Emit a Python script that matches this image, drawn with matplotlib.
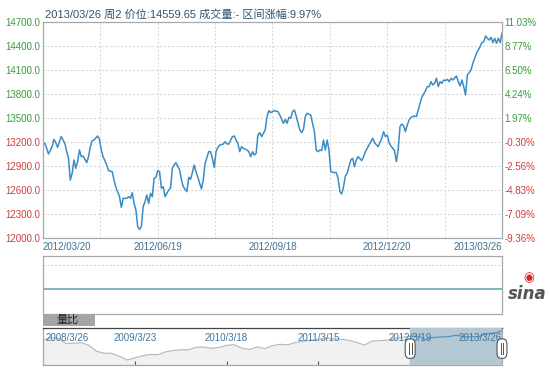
import matplotlib.pyplot as plt
from matplotlib.patches import Rectangle, FancyBboxPatch

# daily close, trading-day offset from 2012/03/20
days = [0, 1, 2, 3, 5, 6, 7, 8, 9, 10, 12, 13, 14, 15, 16, 17, 18, 19, 20, 21,
        22, 24, 25, 26, 27, 28, 30, 31, 32, 33, 35, 36, 38, 39, 40, 42, 43, 44, 46, 47,
        48, 49, 50, 51, 52, 53, 54, 55, 56, 57, 58, 59, 60,
        61, 62, 63, 64, 65, 66, 67, 69, 70, 71, 72, 73, 75, 76, 77, 79, 80, 81, 82, 83,
        84, 86, 87, 88, 89, 91, 92, 93, 94, 95, 96, 97, 99, 100, 101, 102, 104, 105, 106, 107,
        108, 109, 110, 112, 113, 114, 115, 116, 117, 118, 119,
        120, 122, 123, 124, 125, 127, 129, 130, 132, 133, 134, 135, 136, 137, 138, 139, 141, 142, 143, 144,
        145, 147, 148, 149, 150, 151, 152, 153, 154, 155, 156, 157, 158, 160, 161, 162, 163, 164, 165, 166,
        167, 169, 170, 171, 172, 173, 175, 176, 177, 179, 180, 181, 182, 184,
        186, 187, 188, 189, 190, 191, 192, 193, 194, 195, 196, 197, 198, 199, 200, 201, 202, 204, 205, 206,
        207, 208, 210, 211, 212, 213, 214, 215, 216, 217, 218, 219, 220, 221, 222, 223, 224, 225, 227, 228,
        229, 230, 231, 232, 233, 234, 235, 236, 237, 238, 239, 240, 241, 242, 243, 244, 245, 246, 247, 248,
        249, 250, 251, 252]
close = [13170, 13184, 13121, 13050, 13142, 13233, 13192, 13133, 13204, 13267, 13183, 13079, 12996, 12725, 12808, 12975, 12871, 12954, 13100, 13017,
         13025, 12942, 13017, 13142, 13217, 13225, 13275, 13233, 13100, 13017, 12912, 12842, 12829, 12725, 12633, 12517, 12383, 12496, 12496, 12517,
         12496, 12567, 12433, 12350, 12142, 12108, 12142, 12392, 12454, 12538, 12433, 12558, 12517,
         12746, 12758, 12842, 12829, 12621, 12642, 12517, 12600, 12621, 12871, 12912, 12942, 12850, 12725, 12642, 12579, 12758, 12733, 12817, 12912,
         12829, 12683, 12612, 12725, 12933, 13079, 13079, 12996, 12883, 13079, 13133, 13162, 13175, 13204, 13175, 13175, 13267, 13275, 13225, 13183,
         13079, 13142, 13121, 13100, 13079, 13017, 13079, 13037, 13058, 13287, 13317,
         13267, 13350, 13517, 13592, 13567, 13592, 13579, 13537, 13433, 13483, 13433, 13508, 13496, 13579, 13600, 13525, 13350, 13317, 13358, 13517,
         13558, 13537, 13433, 13329, 13100, 13079, 13100, 13092, 13225, 13100, 13225, 13100, 12829, 12817, 12817, 12746, 12579, 12550, 12642, 12775,
         12808, 12975, 12996, 12892, 12975, 13017, 12967, 13017, 13079, 13162, 13204, 13246, 13192, 13142,
         13246, 13329, 13267, 13287, 13192, 13150, 13121, 13092, 12954, 13100, 13392, 13425, 13400, 13329, 13412, 13475, 13508, 13525, 13517, 13600,
         13683, 13758, 13842, 13892, 13892, 13954, 13912, 13933, 13996, 13892, 13954, 13933, 13975, 13967, 13983, 13954, 13996, 13975, 14025, 13954,
         13900, 13975, 13892, 13787, 14037, 14067, 14100, 14183, 14246, 14308, 14350, 14392, 14442, 14454, 14525, 14496, 14475, 14508, 14442, 14496,
         14433, 14496, 14442, 14559.65]
base_close = 13239.13
date_ticks = [0, 63, 126, 189, 252]
date_labels = ['2012/03/20', '2012/06/19', '2012/09/18', '2012/12/20', '2013/03/26']
price_ticks = [12000, 12300, 12600, 12900, 13200, 13500, 13800, 14100, 14400, 14700]

# volume ratio panel (flat)
vol_days = [0, 252]
vol_ratio = [1.0, 1.0]

# navigator: monthly close 2008/03 .. 2013/03
nav_close = [12262, 12820, 12638, 11350, 11378, 11543, 10850, 9325, 8829, 8776,
             8000, 7063, 7609, 8168, 8500, 8447, 9172, 9496, 9712, 9713, 10345, 10428,
             10067, 10325, 10857, 11009, 10137, 9774, 10466, 10015, 10788, 11118, 11006, 11578,
             11892, 12226, 12320, 12811, 12570, 12414, 12143, 11614, 10913, 11955, 12046, 12218,
             12633, 12952, 13212, 13214, 12393, 12880, 13009, 13091, 13437, 13096, 13026, 13104,
             13861, 14054, 14559]
nav_ticks = [0, 12, 24, 36, 48, 60]
nav_labels = ['2008/3/26', '2009/3/23', '2010/3/18', '2011/3/15', '2012/3/19', '2013/3/26']
sel_start = 48

num_font = ['Liberation Sans', 'Noto Sans CJK SC']
green = '#3a9a3a'
red = '#d03c3c'
axis_blue = '#3f6f8f'

plt.rcParams['font.family'] = num_font
fig = plt.figure(figsize=(5.5, 3.79), dpi=100)

# main price panel
ax = fig.add_axes([0.0782, 0.372, 0.8345, 0.570])
ax.plot(days, close, color='#3c8cc4', lw=1.1)
ax.set_xlim(0, 252)
ax.set_ylim(12000, 14700)
ax.set_yticks(price_ticks)
ax.set_yticklabels(['%.1f' % v for v in price_ticks])
for lab, v in zip(ax.get_yticklabels(), price_ticks):
    lab.set_color(green if v > base_close else red)
ax.set_xticks(date_ticks)
ax.set_xticklabels(date_labels)
xl = ax.get_xticklabels()
xl[0].set_ha('left')
xl[-1].set_ha('right')
ax.set_xticks([31.5 * i for i in range(1, 8)], minor=True)
ax.tick_params(axis='both', which='both', length=0, labelsize=7, pad=2)
ax.tick_params(axis='x', colors=axis_blue, pad=3)
ax.grid(True, which='both', color='#d4d4d4', ls=(0, (2, 2)), lw=0.7)
for s in ax.spines.values():
    s.set_color('#a8a8a8')
    s.set_linewidth(0.9)

ax2 = ax.twinx()
ax2.set_ylim(12000, 14700)
ax2.set_yticks(price_ticks)
ax2.set_yticklabels(['%.2f%%' % ((v / base_close - 1) * 100) for v in price_ticks])
for lab, v in zip(ax2.get_yticklabels(), price_ticks):
    lab.set_color(green if v > base_close else red)
ax2.tick_params(length=0, labelsize=7, pad=2)
for s in ax2.spines.values():
    s.set_visible(False)

fig.text(0.082, 0.962, '2013/03/26 周2 价位:14559.65 成交量:- 区间涨幅:9.97%',
         fontsize=8, color='#2d5370', va='center', ha='left')

# volume ratio panel
axv = fig.add_axes([0.0782, 0.172, 0.8345, 0.1517])
axv.plot(vol_days, vol_ratio, color='#5aa0b4', lw=1.1)
axv.axhline(2, color='#c8c8c8', ls=(0, (2, 2)), lw=0.7)
axv.set_xlim(0, 252)
axv.set_ylim(0, 2.35)
axv.set_xticks([])
axv.set_yticks([])
for s in axv.spines.values():
    s.set_color('#a8a8a8')
    s.set_linewidth(0.9)

fig.patches.append(Rectangle((0.0782, 0.1398), 0.0945, 0.033, transform=fig.transFigure,
                             facecolor='#a4a4a4', edgecolor='none'))
fig.text(0.122, 0.156, '量比', fontsize=8, color='#222222', ha='center', va='center')

# sina logo
fig.text(0.958, 0.225, 'sina', fontsize=12, style='italic', fontweight='bold',
         color='#555555', ha='center', va='center', family='DejaVu Sans')
fig.text(0.962, 0.268, '◉', fontsize=9, color='#d42a2a', ha='center', va='center',
         family='DejaVu Sans')

# navigator
axn = fig.add_axes([0.0782, 0.0369, 0.8345, 0.0969])
months = list(range(len(nav_close)))
axn.fill_between(months, nav_close, 5500, color='#f1f1f1')
axn.plot(months, nav_close, color='#b8b8b8', lw=0.8)
axn.axvspan(sel_start, 60, color='#b3c8d2', zorder=3)
axn.plot(months[sel_start:], nav_close[sel_start:], color='#4a8ec0', lw=0.8, zorder=4)
axn.set_xlim(0, 60)
axn.set_ylim(5770, 15256)
axn.set_xticks(nav_ticks[1:-1])
axn.set_xticklabels([])
axn.tick_params(axis='x', direction='in', length=3, color='#555555')
axn.set_yticks([])
for t, lab in zip(nav_ticks, nav_labels):
    ha = 'left' if t == 0 else ('right' if t == 60 else 'center')
    axn.text(t + (0.3 if t == 0 else 0), 12700, lab, fontsize=7, color='#3f77a0',
             ha=ha, va='center', zorder=5)
for s in axn.spines.values():
    s.set_color('#a8a8a8')
    s.set_linewidth(0.9)
axn.spines['top'].set_color('#444444')
for hx in [sel_start, 60]:
    axn.add_patch(FancyBboxPatch((hx - 0.55, 7800), 1.1, 4400,
                                 boxstyle='round,pad=0.1,rounding_size=0.5',
                                 facecolor='white', edgecolor='#555555', lw=0.8,
                                 zorder=6, clip_on=False, mutation_aspect=3000))
    axn.plot([hx - 0.18, hx - 0.18], [8600, 11400], color='#555555', lw=0.7, zorder=7, clip_on=False)
    axn.plot([hx + 0.18, hx + 0.18], [8600, 11400], color='#555555', lw=0.7, zorder=7, clip_on=False)

fig.savefig('out.png', dpi=100)
